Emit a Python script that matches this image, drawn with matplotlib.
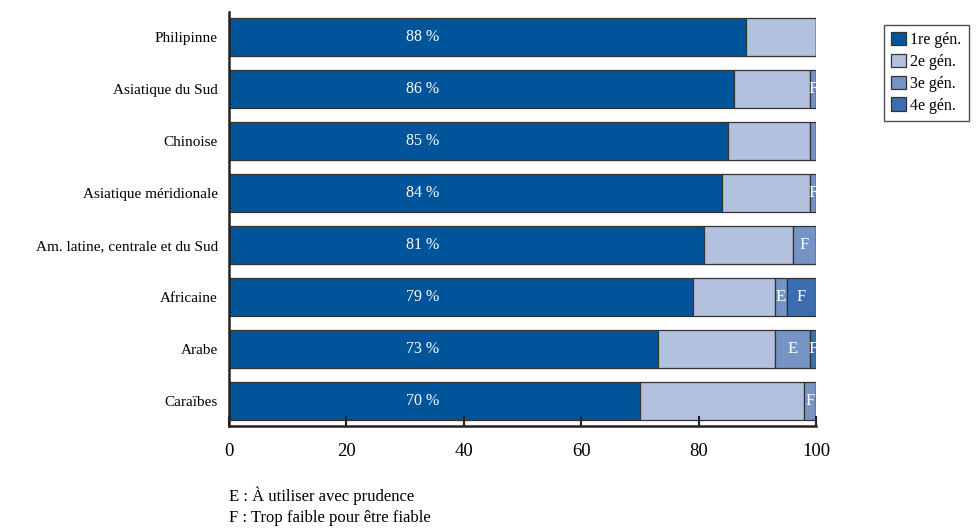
import matplotlib
matplotlib.use("Agg")
import matplotlib.pyplot as plt
from matplotlib.patches import Patch

plt.rcParams['font.family'] = ['Liberation Serif', 'DejaVu Serif']

categories = ["Philipinne", "Asiatique du Sud", "Chinoise", "Asiatique méridionale",
              "Am. latine, centrale et du Sud", "Africaine", "Arabe", "Caraïbes"]
gen1 = [88, 86, 85, 84, 81, 79, 73, 70]
gen2 = [12, 13, 14, 15, 15, 14, 20, 28]
gen3 = [0, 1, 1, 1, 4, 2, 6, 2]
gen4 = [0, 0, 0, 0, 0, 5, 1, 0]
# quality flags per segment (3e gén., 4e gén.)
flag3 = ["", "F", "", "F", "F", "E", "E", "F"]
flag4 = ["", "", "", "", "", "F", "F", ""]
series_names = ["1re gén.", "2e gén.", "3e gén.", "4e gén."]
colors = ["#00559a", "#b3c1df", "#7593c4", "#3a6eaf"]
notes = ["E : À utiliser avec prudence", "F : Trop faible pour être fiable"]
xticks = [0, 20, 40, 60, 80, 100]

fig = plt.figure(figsize=(9.78, 5.31), dpi=100)
ax = fig.add_axes([229 / 978, 1 - 426 / 531, 587 / 978, 414 / 531])

n = len(categories)
ypos = [n - 1 - i for i in range(n)]
h = 0.72
edge = "#333333"
left = [0] * n
for vals, col in zip([gen1, gen2, gen3, gen4], colors):
    ax.barh(ypos, vals, left=left, height=h, color=col, edgecolor=edge, linewidth=0.9)
    left = [l + v for l, v in zip(left, vals)]

fs = 11.5
for i in range(n):
    ax.text(33, ypos[i], f"{gen1[i]} %", color="white", ha="center", va="center", fontsize=fs)
    s3 = gen1[i] + gen2[i]
    if flag3[i]:
        ax.text(s3 + gen3[i] / 2, ypos[i], flag3[i], color="white", ha="center",
                va="center", fontsize=12)
    if flag4[i]:
        s4 = s3 + gen3[i]
        ax.text(s4 + gen4[i] / 2, ypos[i], flag4[i], color="white", ha="center",
                va="center", fontsize=12)

ax.set_xlim(0, 100)
ax.set_ylim(-0.48, n - 1 + 0.48)
ax.set_yticks(ypos)
ax.set_yticklabels(categories, fontsize=11)
ax.tick_params(axis="y", length=0, pad=8)
ax.set_xticks(xticks)
ax.set_xticklabels([str(t) for t in xticks], fontsize=13.5)
ax.tick_params(axis="x", direction="in", length=7, width=1.5, pad=12, color="#222222")
for s in ["top", "right"]:
    ax.spines[s].set_visible(False)
for s in ["left", "bottom"]:
    ax.spines[s].set_linewidth(1.8)
    ax.spines[s].set_color("#222222")

handles = [Patch(facecolor=c, edgecolor=edge, linewidth=0.9) for c in colors]
leg = fig.legend(handles, series_names, loc="upper left",
                 bbox_to_anchor=(884 / 978, 1 - 25 / 531), fontsize=11.5,
                 frameon=True, fancybox=False, edgecolor="#222222",
                 handlelength=0.9, handleheight=0.9, handletextpad=0.3,
                 labelspacing=0.35, borderpad=0.45, borderaxespad=0)
leg.get_frame().set_linewidth(1.0)

fig.text(229 / 978, 1 - 496 / 531, notes[0], fontsize=12, va="center", ha="left")
fig.text(229 / 978, 1 - 518 / 531, notes[1], fontsize=12, va="center", ha="left")

fig.savefig("out.png", dpi=100)
